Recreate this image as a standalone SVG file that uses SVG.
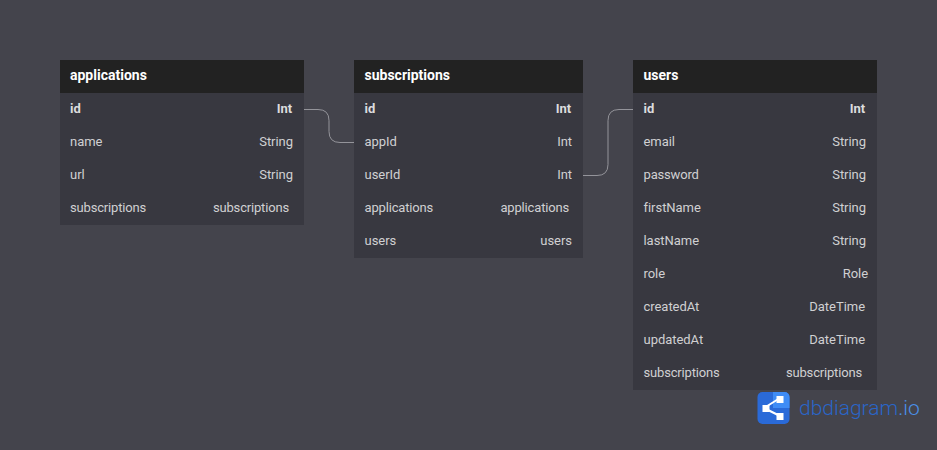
<svg xmlns="http://www.w3.org/2000/svg" width="937" height="450" viewBox="0 0 937 450">
<style>
text{font-family:Roboto,"Liberation Sans",sans-serif;font-size:13px;letter-spacing:-.04px;fill:#d0d0d2}
.s{letter-spacing:-.17px}
.h{font-weight:700;font-size:14px;letter-spacing:0;fill:#fff}
.b{font-weight:700;fill:#dcdcde}
.e{text-anchor:end}
.body{fill:#383840}
.head{fill:#222222}
.c{fill:none;stroke:#94949a;stroke-width:1}
</style>
<rect width="937" height="450" fill="#44444c"/>
<g id="connectors">
<path class="c" d="M304 109.500H318Q329 109.500 329 120.500V131.500Q329 142.500 340 142.500H354"/>
<path class="c" d="M583 175.500H597Q608 175.500 608 164.500V120.500Q608 109.500 619 109.500H633"/>
</g>
<g id="applications">
<rect class="body" x="60" y="60" width="244" height="165"/>
<rect class="head" x="60" y="60" width="244" height="33"/>
<text class="h" x="70" y="80">applications</text>
<text class="b" x="70" y="113">id</text><text class="b e" x="292" y="113">Int</text>
<text x="70" y="146">name</text><text class="e" x="293" y="146">String</text>
<text x="70" y="179">url</text><text class="e" x="293" y="179">String</text>
<text class="s" x="70" y="212">subscriptions</text><text class="s e" x="289" y="212">subscriptions</text>
</g>
<g id="subscriptions">
<rect class="body" x="354" y="60" width="229" height="198"/>
<rect class="head" x="354" y="60" width="229" height="33"/>
<text class="h" x="364.500" y="80">subscriptions</text>
<text class="b" x="364.500" y="113">id</text><text class="b e" x="571" y="113">Int</text>
<text x="364.500" y="146">appId</text><text class="e" x="572" y="146">Int</text>
<text x="364.500" y="179">userId</text><text class="e" x="572" y="179">Int</text>
<text class="s" x="364.500" y="212">applications</text><text class="s e" x="569" y="212">applications</text>
<text x="364.500" y="245">users</text><text class="e" x="572" y="245">users</text>
</g>
<g id="users">
<rect class="body" x="633" y="60" width="244" height="330"/>
<rect class="head" x="633" y="60" width="244" height="33"/>
<text class="h" x="643.500" y="80">users</text>
<text class="b" x="643.500" y="113">id</text><text class="b e" x="865" y="113">Int</text>
<text x="643.500" y="146">email</text><text class="e" x="866" y="146">String</text>
<text class="s" x="643.500" y="179">password</text><text class="e" x="866" y="179">String</text>
<text x="643.500" y="212">firstName</text><text class="e" x="866" y="212">String</text>
<text x="643.500" y="245">lastName</text><text class="e" x="866" y="245">String</text>
<text x="643.500" y="278">role</text><text class="e" x="868" y="278">Role</text>
<text x="643.500" y="311">createdAt</text><text class="e" x="865" y="311">DateTime</text>
<text x="643.500" y="344">updatedAt</text><text class="e" x="865" y="344">DateTime</text>
<text class="s" x="643.500" y="377">subscriptions</text><text class="s e" x="862" y="377">subscriptions</text>
</g>
<g id="logo">
<rect x="757.500" y="392" width="32" height="32" rx="5" fill="#2a6ad8"/>
<path d="M773 392H784.500A5 5 0 0 1 789.500 397V408H773Z" fill="#3f8cf5"/>
<path d="M764 408L780 398M764 408L780 416" stroke="#fff" stroke-width="2" fill="none"/>
<rect x="762.500" y="405" width="7" height="7" fill="#fff"/>
<rect x="776.500" y="396" width="7" height="7" fill="#fff"/>
<rect x="776.500" y="413" width="7" height="7" fill="#fff"/>
<text x="799" y="415" style="font-size:21px;font-weight:300;letter-spacing:0;fill:#2a66c8">dbdiagram<tspan style="fill:#4a90e8">.io</tspan></text>
</g>
</svg>
